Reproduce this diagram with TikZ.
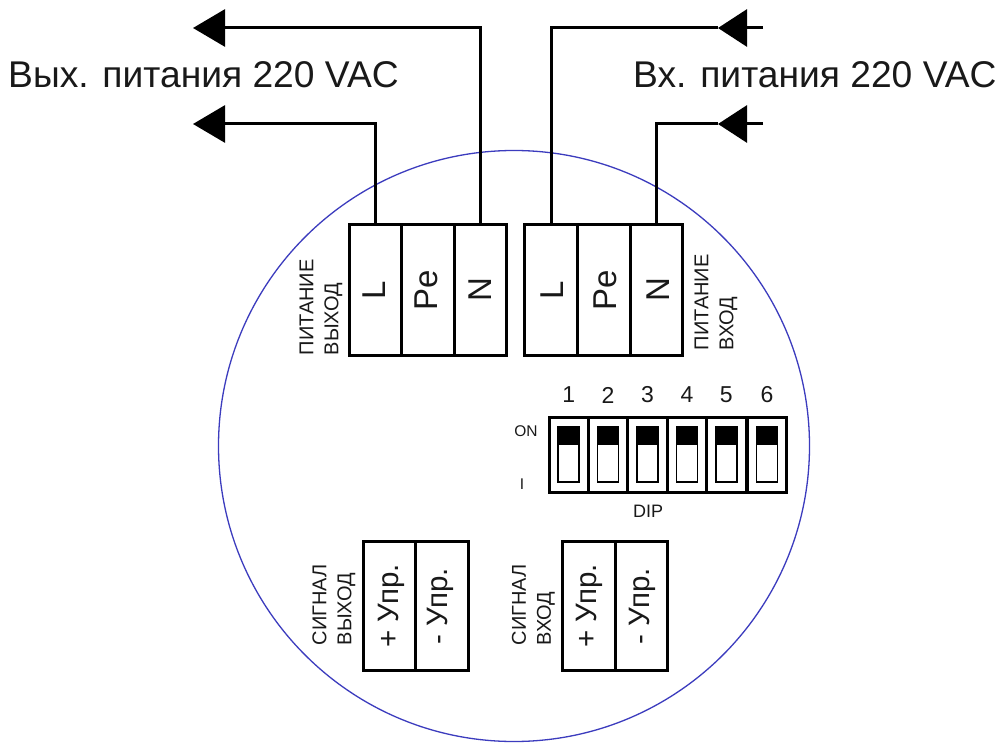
\documentclass[tikz,border=0pt]{standalone}
\usepackage{fontspec}
\setmainfont{Liberation Sans}
\usetikzlibrary{arrows.meta}
\definecolor{ringblue}{RGB}{60,60,190}
\definecolor{txt}{RGB}{25,25,25}
\newcommand{\nudge}[2]{\raisebox{#1pt}[0pt][0pt]{#2}}
\tikzset{
  x=1pt,y=-1pt,
  pwrcell/.style={draw=black,line width=3pt,inner sep=0pt,outer sep=0pt,rotate=90,font=\fontsize{33}{33}\selectfont,text=txt,minimum width=130pt,minimum height=52.5pt},
  sigcell/.style={draw=black,line width=3pt,inner sep=0pt,outer sep=0pt,rotate=90,minimum width=129pt,minimum height=52.5pt,font=\fontsize{29.5}{29.5}\selectfont,text=txt},
  wire/.style={draw=black,line width=3pt},
  outwire/.style={wire,-{Triangle[length=32pt,width=37pt,fill=black]}},
  inwire/.style={wire,-{Triangle[length=29pt,width=37pt,fill=black]}},
  small/.style={font=\fontsize{20}{25}\selectfont,text=txt,inner sep=0pt,align=left,rotate=90,anchor=west},
  num/.style={font=\fontsize{23}{23}\selectfont,text=txt,inner sep=0pt},
  tiny/.style={font=\fontsize{15.5}{16}\selectfont,text=txt,inner sep=0pt},
  big/.style={font=\fontsize{37.2}{37}\selectfont,text=txt,inner sep=0pt,anchor=base west},
  dipbox/.style={draw=black,line width=3pt,minimum width=39.4pt,minimum height=75pt,inner sep=0pt,outer sep=0pt},
  slider/.style={draw=black,line width=1.5pt},
  knob/.style={fill=black},
}
\begin{document}
\begin{tikzpicture}
\useasboundingbox (0,0) rectangle (1001,743);
\fill[white] (0,0) rectangle (1001,743);
\node[circle,draw=ringblue,line width=1.3pt,minimum size=591pt,inner sep=0pt] (ring) at (514,446) {};
% power terminals
\node[pwrcell] (oL) at (375.5,290) {\nudge{-9.5}{L}};
\node[pwrcell] (oP) at (428,290) {\nudge{-9}{Pe}};
\node[pwrcell] (oN) at (480.5,290) {\nudge{-11}{N}};
\node[pwrcell] (iL) at (551,290) {\nudge{-12}{L}};
\node[pwrcell] (iP) at (604,290) {\nudge{-12}{Pe}};
\node[pwrcell] (iN) at (656.5,290) {\nudge{-12.5}{N}};
\node[small] (olab) at (321,355.5) {ПИТАНИЕ\\ВЫХОД};
\node[small] (ilab) at (716,350.5) {ПИТАНИЕ\\ВХОД};
% wires
\coordinate (a1) at (193,28);
\coordinate (a2) at (193,124);
\coordinate (b1) at (763,28);
\coordinate (b2) at (763,124);
\coordinate (t1) at (718,28);
\coordinate (t2) at (718,124);
\draw[outwire] (oN.east) |- (a1);
\draw[outwire] (oL.east) |- (a2);
\draw[inwire] (b1) -- (t1);
\draw[inwire] (b2) -- (t2);
\draw[wire] (iL.east) |- (t1);
\draw[wire] (iN.east) |- (t2);
\node[big] (outt) at (8,88) {Вых. питания 220 VAC};
\node[big] (intt) at (633,88) {Вх. питания 220 VAC};
% DIP
\foreach \i/\x in {1/568.7,2/608.1,3/647.5,4/686.9,5/726.3,6/767}{
  \node[dipbox] (d\i) at (\x,454.5) {};
  \node[num] (n\i) at (\x,395) {\i};
  \draw[slider] (\x-10.5,427) rectangle (\x+10.5,482);
  \fill[knob] (\x-11,427) rectangle (\x+11,444.5);
}
\node[tiny] (on) at (526,431) {ON};
\node[tiny] (off) at (522,484) {I};
\node[tiny,font=\fontsize{18}{18}\selectfont] (dip) at (648,511) {DIP};
% signals
\node[sigcell] (sa) at (389.3,606) {\nudge{-8.7}{+ Упр.}};
\node[sigcell] (sb) at (441.8,606) {\nudge{-6}{- Упр.}};
\node[sigcell] (sc) at (589,606) {\nudge{-7}{+ Упр.}};
\node[sigcell] (sd) at (641.5,606) {\nudge{-7.5}{- Упр.}};
\node[small] (slab1) at (334,645.5) {СИГНАЛ\\ВЫХОД};
\node[small] (slab2) at (533.5,645.5) {СИГНАЛ\\ВХОД};
\end{tikzpicture}
\end{document}
